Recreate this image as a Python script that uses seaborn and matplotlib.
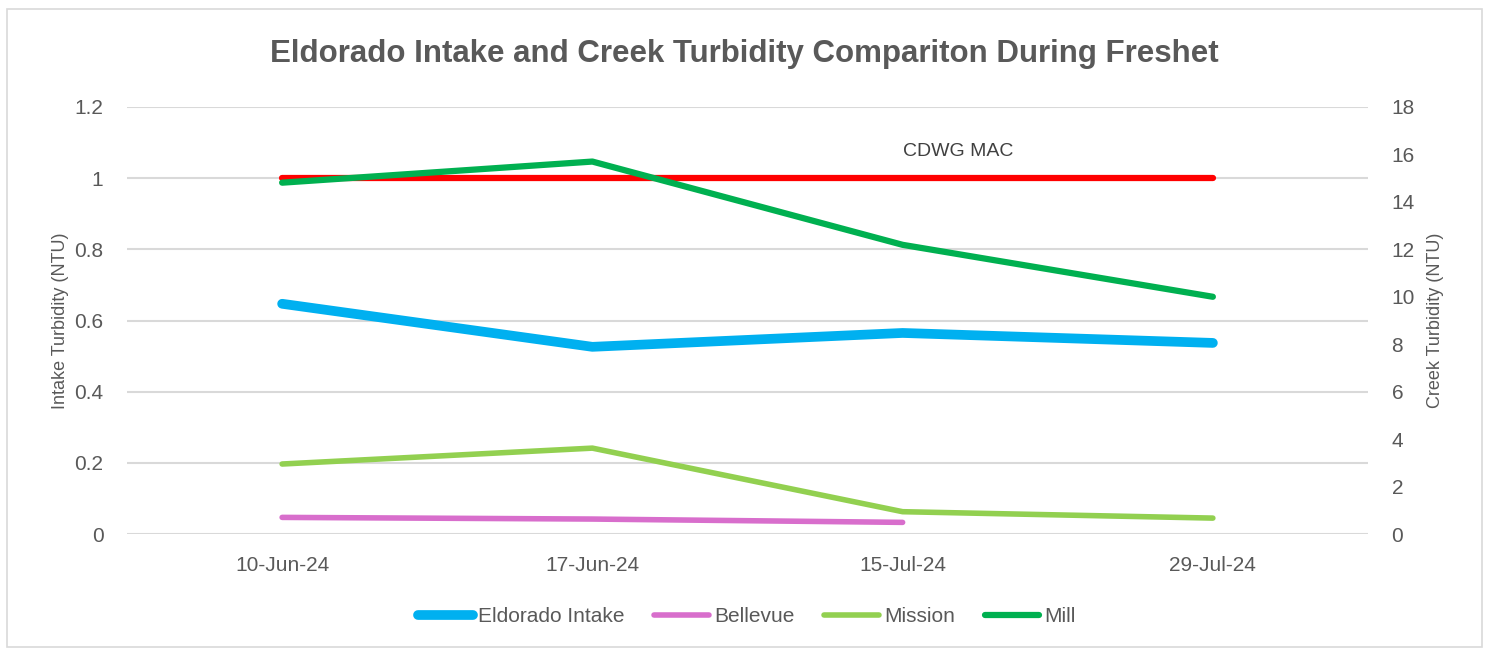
import matplotlib
matplotlib.use("Agg")
import matplotlib.pyplot as plt
from matplotlib.patches import Rectangle
import seaborn as sns
import pandas as pd

dates = ["10-Jun-24", "17-Jun-24", "15-Jul-24", "29-Jul-24"]
intake = [0.647, 0.526, 0.565, 0.537]
cdwg_mac = [1, 1, 1, 1]
bellevue = [0.70, 0.63, 0.49, None]
mission = [2.95, 3.62, 0.94, 0.67]
mill = [14.81, 15.70, 12.19, 10.0]

sns.set_style("white")
plt.rcParams["font.family"] = ["Liberation Sans", "DejaVu Sans"]

df = pd.DataFrame({"pos": range(len(dates)), "date": dates, "intake": intake,
                   "mac": cdwg_mac, "bellevue": bellevue, "mission": mission, "mill": mill})

fig = plt.figure(figsize=(14.89, 6.48), dpi=100)
ax = fig.add_axes([127/1489, 1-534/648, (1368-127)/1489, (534-107)/648])
ax2 = ax.twinx()

grey = "#595959"
grid = "#d9d9d9"

sns.lineplot(data=df, x="pos", y="mac", ax=ax, color="#ff0000", lw=4.5, label="_mac",
             solid_capstyle="round")
sns.lineplot(data=df, x="pos", y="intake", ax=ax, color="#00b0f0", lw=7,
             label="Eldorado Intake", solid_capstyle="round")
sns.lineplot(data=df.dropna(subset=["bellevue"]), x="pos", y="bellevue", ax=ax2, color="#d86ecc",
             lw=4, label="Bellevue", solid_capstyle="round")
sns.lineplot(data=df, x="pos", y="mission", ax=ax2, color="#92d050", lw=4,
             label="Mission", solid_capstyle="round")
sns.lineplot(data=df, x="pos", y="mill", ax=ax2, color="#00b050", lw=4.5,
             label="Mill", solid_capstyle="round")

ax.set_xlim(-0.5, 3.5)
ax.set_ylim(0, 1.2)
ax2.set_ylim(0, 18)
ax.set_yticks([0, 0.2, 0.4, 0.6, 0.8, 1, 1.2])
ax.set_yticklabels(["0", "0.2", "0.4", "0.6", "0.8", "1", "1.2"])
ax2.set_yticks(range(0, 19, 2))
ax.set_xticks(range(len(dates)))
ax.set_xticklabels(dates)

for a in (ax, ax2):
    for s in a.spines.values():
        s.set_visible(False)
    a.tick_params(length=0, colors=grey, labelsize=15)
    a.set_xlabel("")
ax.tick_params(axis="y", pad=17)
ax2.tick_params(axis="y", pad=17)
ax.tick_params(axis="x", pad=16)
ax.yaxis.grid(True, color=grid, lw=1.5)
ax.set_axisbelow(True)

ax.set_ylabel("Intake Turbidity (NTU)", color=grey, fontsize=13, labelpad=4)
ax2.set_ylabel("Creek Turbidity (NTU)", color=grey, fontsize=13, labelpad=9)

ax.text(2.18, 1.074, "CDWG MAC", ha="center", va="center", color="#404040", fontsize=14)

fig.text(0.5, 1-54/648, "Eldorado Intake and Creek Turbidity Compariton During Freshet",
         ha="center", va="center", fontsize=22.5, fontweight="bold", color=grey)

h1, l1 = ax.get_legend_handles_labels()
h2, l2 = ax2.get_legend_handles_labels()
for a in (ax, ax2):
    if a.get_legend():
        a.get_legend().remove()
hs = [h for h, l in zip(h1 + h2, l1 + l2) if not l.startswith("_")]
ls = [l for l in l1 + l2 if not l.startswith("_")]
fig.legend(hs, ls, loc="center", bbox_to_anchor=(747/1489, 1-617/648), ncol=4, frameon=False,
           handlelength=2.6, handletextpad=0.25, columnspacing=1.45,
           prop={"size": 15}, labelcolor=grey)

fig.patches.append(Rectangle((7/1489, 0.002), 1-14/1489, 1-10/648, transform=fig.transFigure,
                             fill=False, edgecolor=grid, lw=1.2))

fig.savefig("out.png", dpi=100)
